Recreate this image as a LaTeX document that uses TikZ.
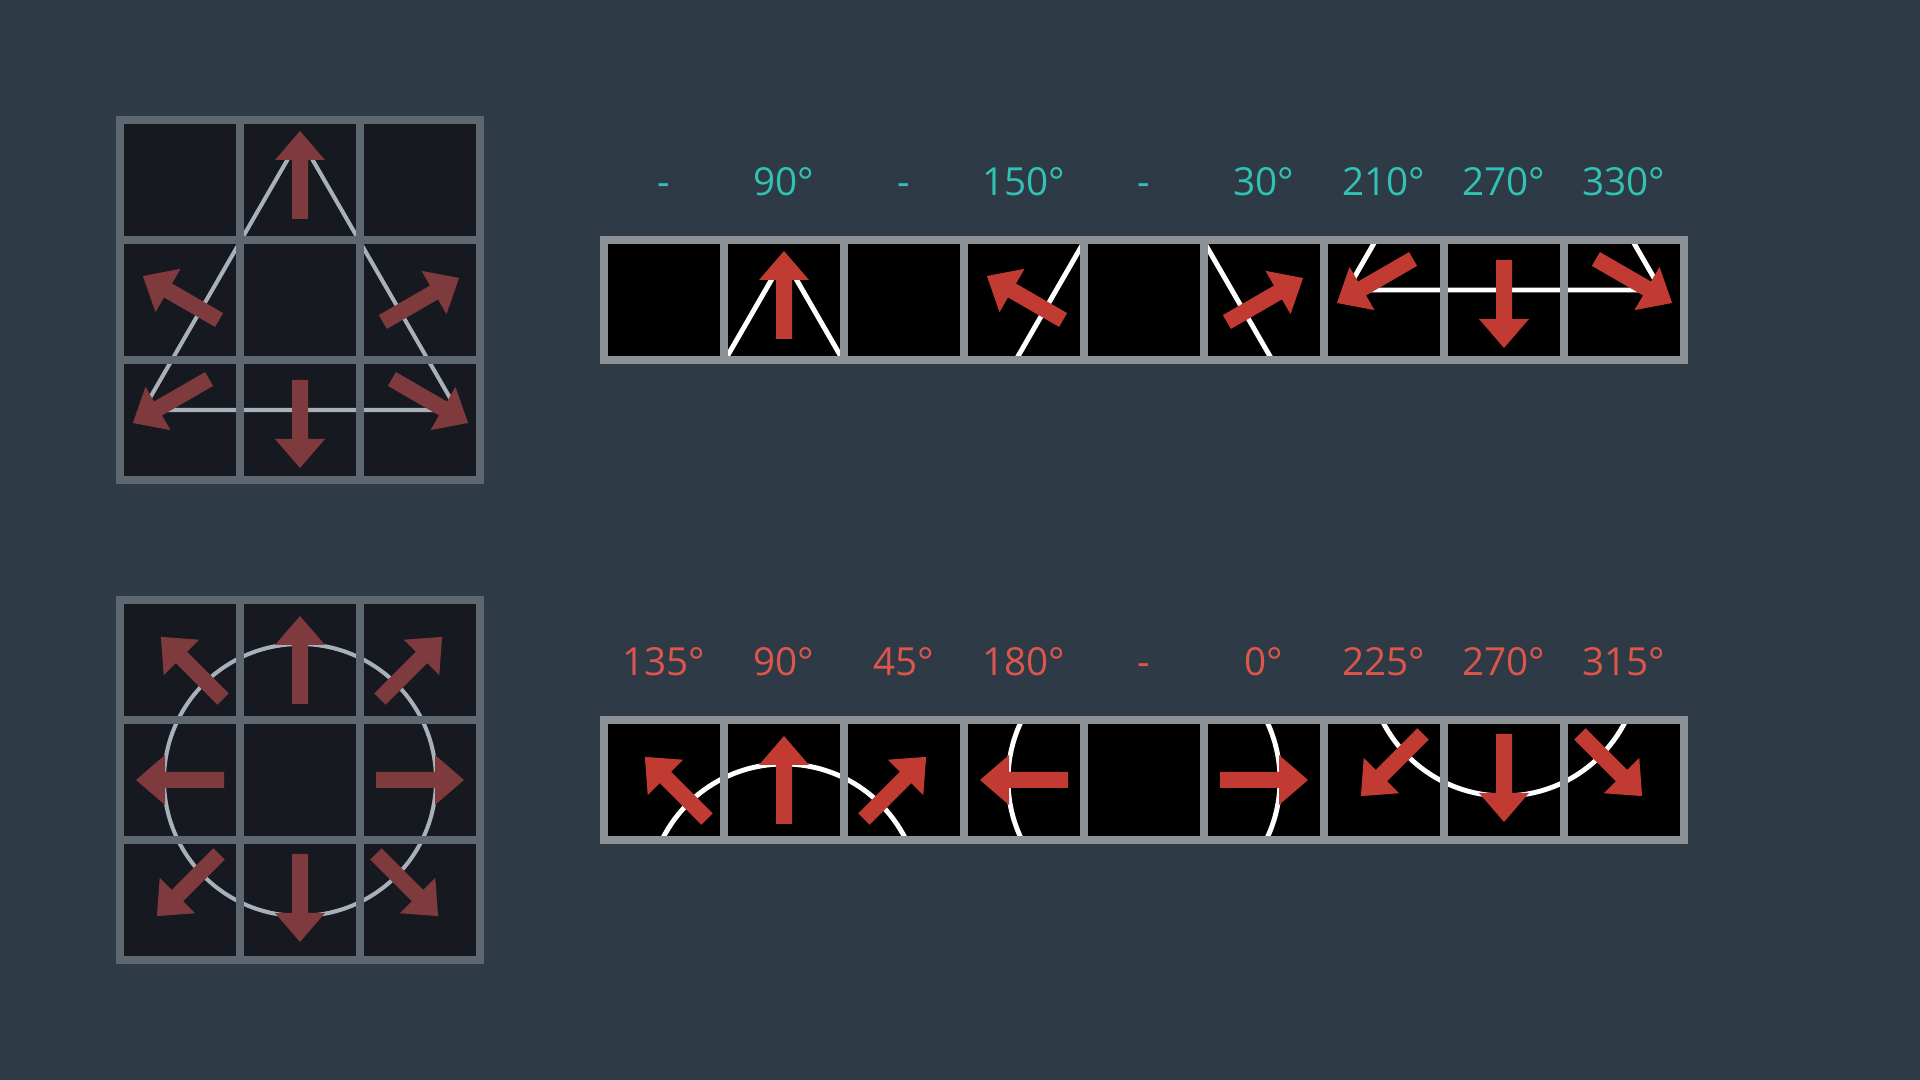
\documentclass[tikz,border=0pt]{standalone}
\usepackage{fontspec}
\setmainfont{Open Sans}
\definecolor{bg}{HTML}{2E3B46}
\definecolor{cellbg}{HTML}{161A20}
\definecolor{gridline}{HTML}{5E676F}
\definecolor{gridarrow}{HTML}{7E3A3D}
\definecolor{gridtri}{HTML}{A8B1B9}
\definecolor{stripline}{HTML}{8C9196}
\definecolor{striparrow}{HTML}{C13B33}
\definecolor{tealtxt}{HTML}{30C3B5}
\definecolor{redtxt}{HTML}{DE564B}
\tikzset{
  lbl/.style={font=\fontsize{11}{13}\selectfont, anchor=base, inner sep=0pt},
  tlbl/.style={lbl, text=tealtxt},
  blbl/.style={lbl, text=redtxt},
  gline/.style={draw=gridline, line width=2.28pt},
  sline/.style={draw=stripline, line width=2.1pt},
}
% arrow: centre x, centre y, angle, colour
\newcommand{\darr}[4]{\fill[#4, shift={(#1,#2)}, rotate=#3] (-44,-8) -- (15,-8) -- (15,-25) -- (44,0) -- (15,25) -- (15,8) -- (-44,8) -- cycle;}
\newcommand{\tricontent}[3]{%
  \draw[#2, line width=#3, line join=round] (300,138) -- (457,410) -- (143,410) -- cycle;
  \darr{300}{175}{90}{#1}
  \darr{181}{298}{150}{#1}
  \darr{421}{300}{30}{#1}
  \darr{171}{401}{210}{#1}
  \darr{300}{424}{270}{#1}
  \darr{430}{401}{330}{#1}
}
\newcommand{\circcontent}[3]{%
  \draw[#2, line width=#3] (300,780) circle[radius=136];
  \darr{300}{660}{90}{#1}
  \darr{192}{668}{135}{#1}
  \darr{411}{668}{45}{#1}
  \darr{180}{780}{180}{#1}
  \darr{420}{780}{0}{#1}
  \darr{188}{885}{225}{#1}
  \darr{300}{898}{270}{#1}
  \darr{407}{885}{315}{#1}
}
\begin{document}
\begin{tikzpicture}[x=0.01cm,y=-0.01cm]
\fill[bg] (0,0) rectangle (1920,1080);
\useasboundingbox (0,0) rectangle (1920,1080);

% ---- top grid ----
\fill[cellbg] (120,120) rectangle (480,480);
\tricontent{gridarrow}{gridtri}{1.15pt}
\draw[gline] (120,120) rectangle (480,480);
\foreach \t in {240,360} {
  \draw[gline] (\t,120) -- (\t,480);
  \draw[gline] (120,\t) -- (480,\t);
}

% ---- bottom grid ----
\fill[cellbg] (120,600) rectangle (480,960);
\circcontent{gridarrow}{gridtri}{1.15pt}
\draw[gline] (120,600) rectangle (480,960);
\foreach \t in {240,360} {
  \draw[gline] (\t,600) -- (\t,960);
}
\foreach \t in {720,840} {
  \draw[gline] (120,\t) -- (480,\t);
}

% ---- top strip ----
\fill[black] (604,240) rectangle (1684,360);
\foreach \ki/\ri/\ci in {0/0/0,1/0/1,2/0/2,3/1/0,4/1/1,5/1/2,6/2/0,7/2/1,8/2/2} {
  \begin{scope}
    \clip ({604+120*\ki},240) rectangle ++(120,120);
    \begin{scope}[shift={({484+120*\ki-120*\ci},{120-120*\ri})}]
      \tricontent{striparrow}{white}{1.4pt}
    \end{scope}
  \end{scope}
}
\draw[sline] (604,240) rectangle (1684,360);
\foreach \ki in {1,...,8} {
  \draw[sline] ({604+120*\ki},240) -- ({604+120*\ki},360);
}

% ---- bottom strip ----
\fill[black] (604,720) rectangle (1684,840);
\foreach \ki/\ri/\ci in {0/0/0,1/0/1,2/0/2,3/1/0,4/1/1,5/1/2,6/2/0,7/2/1,8/2/2} {
  \begin{scope}
    \clip ({604+120*\ki},720) rectangle ++(120,120);
    \begin{scope}[shift={({484+120*\ki-120*\ci},{120-120*\ri})}]
      \circcontent{striparrow}{white}{1.4pt}
    \end{scope}
  \end{scope}
}
\draw[sline] (604,720) rectangle (1684,840);
\foreach \ki in {1,...,8} {
  \draw[sline] ({604+120*\ki},720) -- ({604+120*\ki},840);
}

% ---- labels ----
\foreach \ki/\txt in {0/-,1/90°,2/-,3/150°,4/-,5/30°,6/210°,7/270°,8/330°} {
  \node[tlbl] (t\ki) at ({664+120*\ki},196) {\txt};
}
\foreach \ki/\txt in {0/135°,1/90°,2/45°,3/180°,4/-,5/0°,6/225°,7/270°,8/315°} {
  \node[blbl] (b\ki) at ({664+120*\ki},676) {\txt};
}
\end{tikzpicture}
\end{document}
